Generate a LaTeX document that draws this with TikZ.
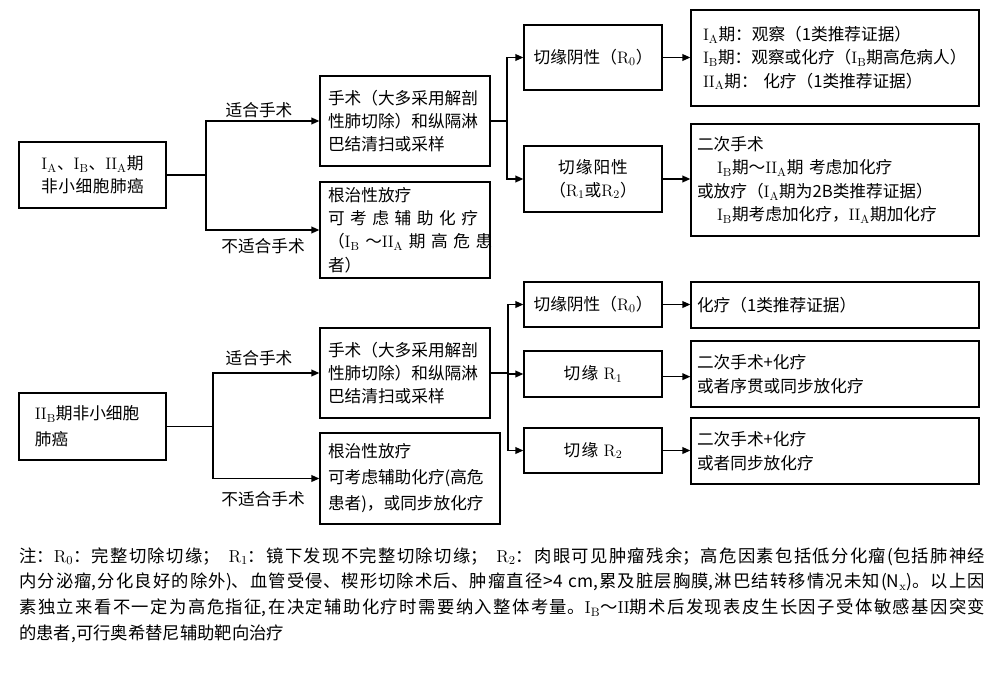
\documentclass[tikz,border=0pt]{standalone}
\usepackage{fontspec}
\newfontfamily\cjk{Noto Sans CJK SC}
\usetikzlibrary{arrows.meta}
\XeTeXlinebreaklocale "zh"
\XeTeXlinebreakskip=0pt plus 1pt
\newcommand{\stg}[2]{$\mathrm{#1}_{\mathrm{#2}}$}

\begin{document}
\begin{tikzpicture}[
  x=0.75pt, y=-0.75pt,
  font=\cjk\fontsize{12.5}{17.5}\selectfont,
  box/.style={draw, line width=0.9pt, inner xsep=6pt, inner ysep=1pt,
              align=left, text width=115.5pt},
  stage/.style={box, text width=98.25pt},
  cut/.style={box, align=center, text width=91.5pt},
  wide/.style={box, inner xsep=4.5pt, text width=207pt},
  link/.style={line width=1.1pt},
  arr/.style={link, -{Triangle[length=6pt, width=5pt]}},
  lab/.style={inner sep=1pt},
  note/.style={font=\cjk\fontsize{13}{19.3}\selectfont, text width=724.5pt,
               align=justify, inner sep=0pt}
]
  \useasboundingbox (0,0) rectangle (1000,675);

  % upper tree
  \node[stage, align=center, minimum height=49.5pt] (stA) at (92.5,175)
    {\stg{I}{A}、\stg{I}{B}、\stg{II}{A}期\\非小细胞肺癌};
  \node[box, minimum height=67.5pt] (surgA) at (405,121)
    {手术（大多采用解剖\\性肺切除）和纵隔淋\\巴结清扫或采样};
  \node[box, minimum height=72pt] (radA) at (405,230)
    {根治性放疗\\
     \makebox[115.5pt][s]{可 考 虑 辅 助 化 疗}\\
     \makebox[115.5pt][s]{（\stg{I}{B} ～\stg{II}{A} 期 高 危 患}\\
     者）};
  \node[cut, minimum height=48.75pt] (negA) at (593,57.5) {切缘阴性（\stg{R}{0}）};
  \node[cut, minimum height=49.5pt] (posA) at (593,179) {切缘阳性\\（\stg{R}{1}或\stg{R}{2}）};
  \node[wide, inner xsep=9pt, text width=198pt, minimum height=72pt] (resA) at (835,58)
    {\stg{I}{A}期：观察（1类推荐证据）\\
     \stg{I}{B}期：观察或化疗（\stg{I}{B}期高危病人）\\
     \stg{II}{A}期： 化疗（1类推荐证据）};
  \node[wide, minimum height=84pt] (resB) at (835,180)
    {二次手术\\
     \hspace*{1.2em}\stg{I}{B}期～\stg{II}{A}期 考虑加化疗\\
     或放疗（\stg{I}{A}期为2B类推荐证据）\\
     \hspace*{1.2em}\stg{I}{B}期考虑加化疗，\stg{II}{A}期加化疗};

  % lower tree
  \node[stage, inner xsep=12pt, text width=86.25pt, minimum height=50.25pt,
        font=\cjk\fontsize{12.5}{19.5}\selectfont] (stB) at (92.5,426.5)
    {\stg{II}{B}期非小细胞\\肺癌};
  \node[box, minimum height=67.5pt] (surgB) at (405,373)
    {手术（大多采用解剖\\性肺切除）和纵隔淋\\巴结清扫或采样};
  \node[box, text width=123pt, minimum height=68.25pt,
        font=\cjk\fontsize{12.5}{19.5}\selectfont] (radB) at (410,478.5)
    {根治性放疗\\可考虑辅助化疗(高危\\患者)，或同步放化疗};
  \node[cut, minimum height=33.75pt] (negB) at (593,304.5) {切缘阴性（\stg{R}{0}）};
  \node[cut, minimum height=34.5pt] (cutR1) at (593,374) {切缘 \stg{R}{1}};
  \node[cut, minimum height=33.75pt] (cutR2) at (593,450.5) {切缘 \stg{R}{2}};
  \node[wide, minimum height=34.5pt] (resC) at (835,305) {化疗（1类推荐证据）};
  \node[wide, minimum height=49.5pt] (resD) at (835,374) {二次手术+化疗\\或者序贯或同步放化疗};
  \node[wide, minimum height=49.5pt] (resE) at (835,451) {二次手术+化疗\\或者同步放化疗};

  \coordinate (jA) at (206,175);
  \coordinate (kA) at (507,121);
  \coordinate (jB) at (213,426.5);
  \coordinate (kB) at (508,373);

  \draw[link] (stA) -- (jA);
  \draw[arr] (jA) |- (surgA);
  \draw[arr] (jA) |- (radA);
  \draw[link] (surgA) -- (kA);
  \draw[arr] (kA) |- (negA);
  \draw[arr] (kA) |- (posA);
  \draw[arr] (negA.east) -- (negA.east -| resA.west);
  \draw[arr] (posA.east) -- (posA.east -| resB.west);

  \draw[link] (stB) -- (jB);
  \draw[arr] (jB) |- (surgB);
  \draw[arr] (jB) |- (radB);
  \draw[link] (surgB) -- (kB);
  \draw[arr] (kB) |- (negB);
  \draw[arr] (kB) |- (cutR1);
  \draw[arr] (kB) |- (cutR2);
  \draw[arr] (negB.east) -- (negB.east -| resC.west);
  \draw[arr] ([yshift=-2pt]cutR1.east) -- ([yshift=-2pt]cutR1.east -| resD.west);
  \draw[arr] (cutR2.east) -- (cutR2.east -| resE.west);

  \node[lab] (fitA) at (259,110) {适合手术};
  \node[lab] (unfitA) at (263,246) {不适合手术};
  \node[lab] (fitB) at (259,358) {适合手术};
  \node[lab] (unfitB) at (263,499) {不适合手术};

  \node[note, anchor=north west] (note) at (19,547)
    {注：\stg{R}{0}：完整切除切缘；\hspace{0.5em}\stg{R}{1}：镜下发现不完整切除切缘；\hspace{0.5em}\stg{R}{2}：肉眼可见肿瘤残余；高危因素包括低分化瘤(包括肺神经\linebreak
     内分泌瘤,分化良好的除外)、血管受侵、楔形切除术后、肿瘤直径>4 cm,累及脏层胸膜,淋巴结转移情况未知(N$_\mathrm{x}$)。以上因\linebreak
     素独立来看不一定为高危指征,在决定辅助化疗时需要纳入整体考量。\stg{I}{B}～$\mathrm{II}$期术后发现表皮生长因子受体敏感基因突变\linebreak
     的患者,可行奥希替尼辅助靶向治疗};
\end{tikzpicture}
\end{document}
